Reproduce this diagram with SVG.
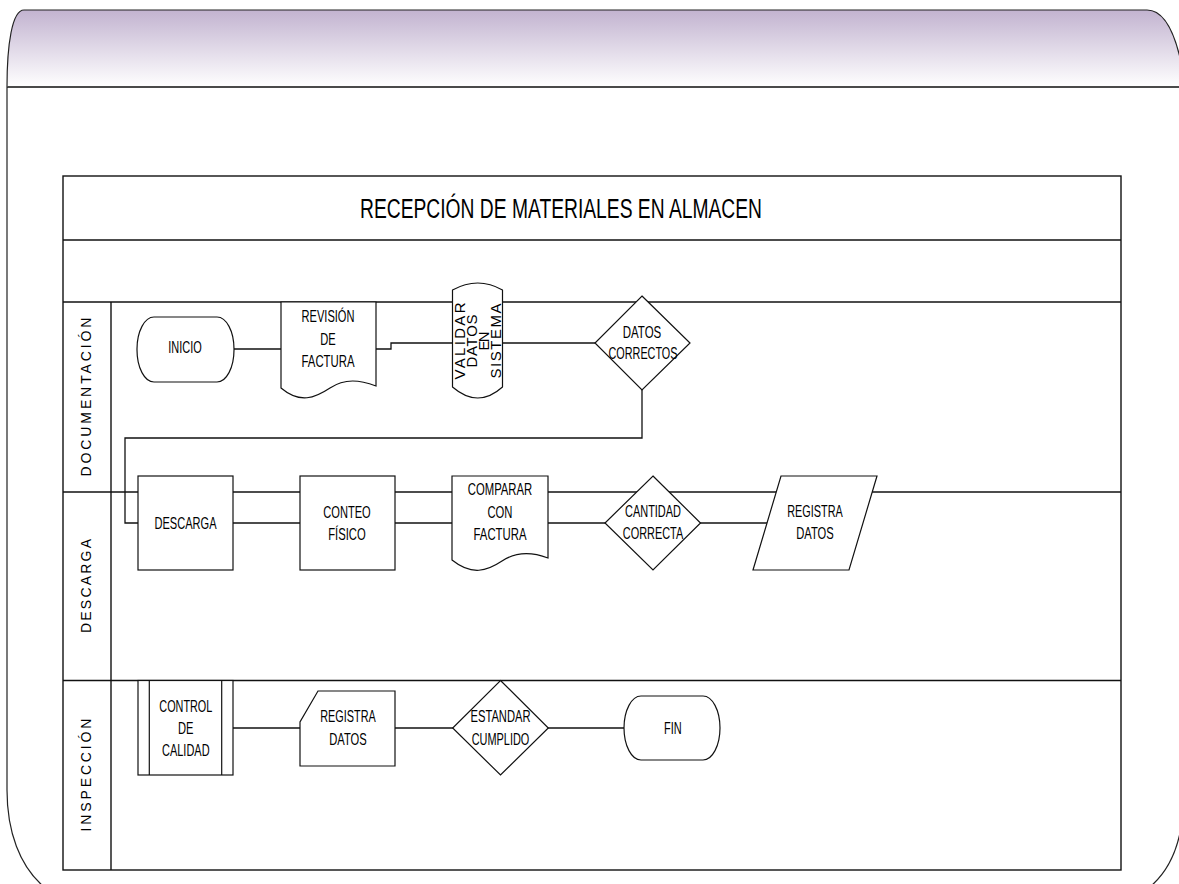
<svg xmlns="http://www.w3.org/2000/svg" width="1179" height="884" viewBox="0 0 1179 884">
  <defs>
    <linearGradient id="hdrFill" x1="0" y1="0" x2="0" y2="1">
      <stop offset="0" stop-color="#c2b3d0"/>
      <stop offset="1" stop-color="#ffffff"/>
    </linearGradient>
  </defs>
  <style>
    .frame { fill: none; stroke: #222; stroke-width: 1.2; }
    .grid { fill: none; stroke: #111; stroke-width: 1.4; }
    .conn { fill: none; stroke: #111; stroke-width: 1.3; }
    .shape { fill: #fff; stroke: #111; stroke-width: 1.2; }
    .lbl { font-family: "Liberation Sans", Arial, sans-serif; font-size: 16.5px; text-anchor: middle; fill: #000; }
    .lane { font-family: "Liberation Sans", Arial, sans-serif; font-size: 14px; text-anchor: middle; fill: #000; }
    .vtxt { font-family: "Liberation Sans", Arial, sans-serif; font-size: 15px; text-anchor: middle; fill: #000; }
    .title { font-family: "Liberation Sans", Arial, sans-serif; font-size: 27px; text-anchor: middle; fill: #000; }
  </style>

  <rect width="1179" height="884" fill="#fff"/>

  <!-- page frame with tinted header band -->
  <g id="page-frame">
    <path d="M7,87 C7,45 12,10 24,10 H1147 C1163,10 1174,30 1181,62 V87 Z" fill="url(#hdrFill)" stroke="none"/>
    <path class="frame" d="M7,87 C7,45 12,10 24,10 H1147 C1163,10 1174,30 1181,62"/>
    <line x1="7" y1="87" x2="1179" y2="87" stroke="#4a4a4a" stroke-width="2"/>
    <path class="frame" d="M7,87 V790 C7,832 20,866 43,886"/>
    <path class="frame" d="M1181,828 C1176,856 1166,873 1151,886"/>
  </g>

  <!-- swimlane table -->
  <g id="table">
    <rect class="grid" x="63" y="176" width="1058" height="694"/>
    <line class="grid" x1="63" y1="240" x2="1121" y2="240"/>
    <line class="grid" x1="63" y1="302" x2="1121" y2="302"/>
    <line class="grid" x1="63" y1="492" x2="1121" y2="492"/>
    <line class="grid" x1="63" y1="680.5" x2="1121" y2="680.5"/>
    <line class="grid" x1="111" y1="302" x2="111" y2="870"/>
    <text class="title" x="561" y="217.5" textLength="402" lengthAdjust="spacingAndGlyphs">RECEPCIÓN DE MATERIALES EN ALMACEN</text>
    <text class="lane" transform="translate(91,397) rotate(-90)" textLength="159">DOCUMENTACIÓN</text>
    <text class="lane" transform="translate(90.5,586) rotate(-90)" textLength="94">DESCARGA</text>
    <text class="lane" transform="translate(90.5,775) rotate(-90)" textLength="113">INSPECCIÓN</text>
  </g>

  <!-- connectors -->
  <g id="connectors">
    <path class="conn" d="M234,349 H281"/>
    <path class="conn" d="M376,349 H391 V343 H453"/>
    <path class="conn" d="M503,343 H595"/>
    <path class="conn" d="M642,390 V438 H125 V523 H138"/>
    <path class="conn" d="M233,523 H300"/>
    <path class="conn" d="M395,523 H452"/>
    <path class="conn" d="M548,523 H605"/>
    <path class="conn" d="M700,523 H768"/>
    <path class="conn" d="M233,728 H300"/>
    <path class="conn" d="M395,728 H453"/>
    <path class="conn" d="M548,728 H624"/>
  </g>

  <!-- Documentación lane -->
  <g id="inicio">
    <rect class="shape" x="137" y="317" width="97" height="65" rx="17" ry="32"/>
    <text class="lbl" x="185" y="353.2" textLength="33.5" lengthAdjust="spacingAndGlyphs">INICIO</text>
  </g>
  <g id="revision-factura">
    <path class="shape" d="M281,302 H376 V386 C360,380 345,378 330,388 C315,398 300,404 281,388 Z"/>
    <text class="lbl" x="328" y="322" textLength="53" lengthAdjust="spacingAndGlyphs">REVISIÓN</text>
    <text class="lbl" x="328" y="344.5" textLength="15.5" lengthAdjust="spacingAndGlyphs">DE</text>
    <text class="lbl" x="328" y="367" textLength="53" lengthAdjust="spacingAndGlyphs">FACTURA</text>
  </g>
  <g id="validar-datos">
    <path class="shape" d="M452.5,290 Q478,276 502.5,290 V387 Q478,409 452.5,387 Z"/>
    <text class="vtxt" transform="translate(464.5,341) rotate(-90)" textLength="77">VALIDAR</text>
    <text class="vtxt" transform="translate(476.8,341) rotate(-90)" textLength="53">DATOS</text>
    <text class="vtxt" transform="translate(488.6,341) rotate(-90)" textLength="19">EN</text>
    <text class="vtxt" transform="translate(501,341) rotate(-90)" textLength="75">SISTEMA</text>
  </g>
  <g id="datos-correctos">
    <polygon class="shape" points="642,296 690,343 642,390 595,343"/>
    <text class="lbl" x="642" y="337.6" textLength="38.5" lengthAdjust="spacingAndGlyphs">DATOS</text>
    <text class="lbl" x="643" y="358.6" textLength="69" lengthAdjust="spacingAndGlyphs">CORRECTOS</text>
  </g>

  <!-- Descarga lane -->
  <g id="descarga">
    <rect class="shape" x="138" y="476" width="95" height="94"/>
    <text class="lbl" x="185.5" y="528.6" textLength="62" lengthAdjust="spacingAndGlyphs">DESCARGA</text>
  </g>
  <g id="conteo-fisico">
    <rect class="shape" x="300" y="476" width="95" height="94"/>
    <text class="lbl" x="347" y="517.6" textLength="47.5" lengthAdjust="spacingAndGlyphs">CONTEO</text>
    <text class="lbl" x="347" y="539.9" textLength="37.5" lengthAdjust="spacingAndGlyphs">FÍSICO</text>
  </g>
  <g id="comparar-factura">
    <path class="shape" d="M452,476 H548 V558 C532,552 517,551 502,561 C487,571 472,576 452,560 Z"/>
    <text class="lbl" x="500" y="494.9" textLength="64.5" lengthAdjust="spacingAndGlyphs">COMPARAR</text>
    <text class="lbl" x="500" y="517.6" textLength="25" lengthAdjust="spacingAndGlyphs">CON</text>
    <text class="lbl" x="500" y="539.9" textLength="53" lengthAdjust="spacingAndGlyphs">FACTURA</text>
  </g>
  <g id="cantidad-correcta">
    <polygon class="shape" points="653,476 700.5,523 653,570 605,523"/>
    <text class="lbl" x="653" y="516.9" textLength="56" lengthAdjust="spacingAndGlyphs">CANTIDAD</text>
    <text class="lbl" x="653" y="538.9" textLength="60.5" lengthAdjust="spacingAndGlyphs">CORRECTA</text>
  </g>
  <g id="registra-datos-descarga">
    <polygon class="shape" points="781,476 877,476 849,570 753,570"/>
    <text class="lbl" x="815" y="516.9" textLength="55.5" lengthAdjust="spacingAndGlyphs">REGISTRA</text>
    <text class="lbl" x="815" y="538.9" textLength="37.5" lengthAdjust="spacingAndGlyphs">DATOS</text>
  </g>

  <!-- Inspección lane -->
  <g id="control-calidad">
    <rect class="shape" x="138" y="680.5" width="95" height="94.5"/>
    <line class="shape" x1="149.3" y1="680.5" x2="149.3" y2="775"/>
    <line class="shape" x1="221.7" y1="680.5" x2="221.7" y2="775"/>
    <text class="lbl" x="185.8" y="712.2" textLength="53" lengthAdjust="spacingAndGlyphs">CONTROL</text>
    <text class="lbl" x="185.8" y="733.9" textLength="15.5" lengthAdjust="spacingAndGlyphs">DE</text>
    <text class="lbl" x="185.8" y="755.6" textLength="47.5" lengthAdjust="spacingAndGlyphs">CALIDAD</text>
  </g>
  <g id="registra-datos-inspeccion">
    <polygon class="shape" points="318,691 395,691 395,766 300,766 300,722"/>
    <text class="lbl" x="348" y="722.2" textLength="55.5" lengthAdjust="spacingAndGlyphs">REGISTRA</text>
    <text class="lbl" x="348" y="744.7" textLength="37.5" lengthAdjust="spacingAndGlyphs">DATOS</text>
  </g>
  <g id="estandar-cumplido">
    <polygon class="shape" points="500.5,680.5 548.3,728 500.5,775 452.7,728"/>
    <text class="lbl" x="500.5" y="721.9" textLength="60" lengthAdjust="spacingAndGlyphs">ESTANDAR</text>
    <text class="lbl" x="500.5" y="744.7" textLength="57.7" lengthAdjust="spacingAndGlyphs">CUMPLIDO</text>
  </g>
  <g id="fin">
    <rect class="shape" x="624" y="696" width="96" height="64" rx="17" ry="32"/>
    <text class="lbl" x="672.8" y="733.7" textLength="17.7" lengthAdjust="spacingAndGlyphs">FIN</text>
  </g>
</svg>
